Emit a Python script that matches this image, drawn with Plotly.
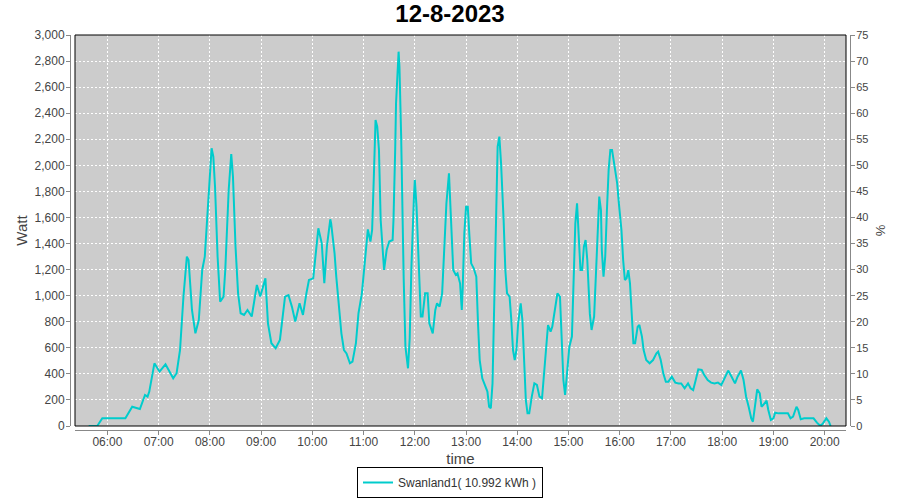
import plotly.graph_objects as go

day = "2023-08-12"
times = [
    "05:38", "05:48", "05:54", "06:00", "06:10", "06:21", "06:29", "06:35", "06:38", "06:44",
    "06:47", "06:49", "06:55", "07:01", "07:08", "07:17", "07:21", "07:25", "07:29", "07:33",
    "07:35", "07:39", "07:43", "07:47", "07:51", "07:54", "07:56", "07:58", "08:02", "08:04",
    "08:06", "08:09", "08:12", "08:16", "08:18", "08:22", "08:25", "08:27", "08:30", "08:33",
    "08:36", "08:40", "08:44", "08:49", "08:55", "08:59", "09:05", "09:08", "09:12", "09:17",
    "09:22", "09:28", "09:32", "09:36", "09:40", "09:45", "09:49", "09:53", "09:56", "10:01",
    "10:03", "10:07", "10:11", "10:14", "10:17", "10:21", "10:22", "10:24", "10:26", "10:28",
    "10:31", "10:34", "10:37", "10:40", "10:44", "10:47", "10:51", "10:54", "10:58", "11:01",
    "11:04", "11:05", "11:08", "11:10", "11:12", "11:14", "11:16", "11:18", "11:20", "11:23",
    "11:24", "11:27", "11:30", "11:34", "11:35", "11:37", "11:38", "11:41", "11:42", "11:44",
    "11:45", "11:47", "11:49", "11:52", "11:54", "11:56", "11:59", "12:00", "12:02", "12:05",
    "12:07", "12:09", "12:12", "12:15", "12:17", "12:21", "12:24", "12:26", "12:29", "12:32",
    "12:34", "12:37", "12:40", "12:42", "12:45", "12:48", "12:50", "12:53", "12:55", "12:56",
    "12:58", "13:00", "13:02", "13:04", "13:06", "13:09", "13:12", "13:14", "13:16", "13:19",
    "13:22", "13:25", "13:27", "13:29", "13:31", "13:33", "13:35", "13:37", "13:39", "13:41",
    "13:44", "13:46", "13:48", "13:51", "13:53", "13:55", "13:57", "13:59", "14:01", "14:04",
    "14:06", "14:08", "14:10", "14:12", "14:14", "14:17", "14:20", "14:23", "14:26", "14:29",
    "14:32", "14:34", "14:36", "14:39", "14:41", "14:44", "14:47", "14:50", "14:52", "14:54",
    "14:56", "14:59", "15:01", "15:04", "15:06", "15:08", "15:10", "15:12", "15:14", "15:16",
    "15:18", "15:20", "15:22", "15:25", "15:27", "15:30", "15:32", "15:34", "15:36", "15:38",
    "15:39", "15:41", "15:43", "15:45", "15:47", "15:49", "15:51", "15:54", "15:57", "15:59",
    "16:02", "16:04", "16:06", "16:08", "16:10", "16:12", "16:14", "16:16", "16:18", "16:21",
    "16:23", "16:26", "16:28", "16:31", "16:35", "16:39", "16:43", "16:45", "16:48", "16:51",
    "16:54", "16:57", "17:01", "17:05", "17:09", "17:12", "17:16", "17:20", "17:23", "17:26",
    "17:29", "17:32", "17:36", "17:39", "17:43", "17:47", "17:51", "17:55", "17:59", "18:03",
    "18:07", "18:11", "18:15", "18:18", "18:22", "18:25", "18:28", "18:31", "18:34", "18:36",
    "18:38", "18:41", "18:44", "18:46", "18:48", "18:52", "18:54", "18:57", "19:00", "19:02",
    "19:06", "19:12", "19:17", "19:20", "19:23", "19:27", "19:29", "19:32", "19:36", "19:41",
    "19:47", "19:51", "19:55", "19:58", "20:02", "20:05", "20:07",
]
watt = [
    0, 0, 59, 60, 60, 60, 148, 136, 130, 238,
    225, 264, 481, 417, 473, 366, 405, 583, 992, 1299,
    1274, 890, 711, 813, 1197, 1299, 1504, 1734, 2131, 2067,
    1836, 1299, 954, 993, 1197, 1811, 2087, 1913, 1376, 1018,
    865, 852, 890, 840, 1082, 993, 1133, 788, 635, 596,
    660, 993, 1005, 916, 801, 942, 852, 1018, 1120, 1133,
    1248, 1517, 1402, 1095, 1376, 1586, 1555, 1460, 1325, 1146,
    941, 711, 583, 557, 481, 494, 635, 865, 1018, 1248,
    1427, 1509, 1415, 1504, 1913, 2348, 2297, 2118, 1580, 1248,
    1197, 1350, 1415, 1427, 1580, 2118, 2476, 2872, 2757, 2220,
    1785, 1120, 609, 443, 673, 1222, 1760, 1888, 1683, 1171,
    840, 840, 1018, 1018, 788, 711, 890, 941, 916, 1018,
    1350, 1708, 1939, 1580, 1197, 1159, 1171, 1095, 890, 1044,
    1478, 1683, 1683, 1453, 1248, 1210, 1146, 788, 506, 366,
    315, 264, 148, 136, 327, 916, 1683, 2143, 2220, 2016,
    1580, 1197, 1018, 993, 813, 583, 506, 583, 788, 941,
    813, 430, 200, 97, 97, 225, 327, 315, 225, 213,
    430, 609, 775, 724, 762, 890, 1018, 993, 711, 353,
    238, 481, 609, 686, 1044, 1555, 1708, 1453, 1197, 1197,
    1376, 1427, 1274, 860, 737, 840, 1197, 1504, 1760, 1657,
    1350, 1146, 1299, 1657, 1964, 2118, 2118, 1990, 1862, 1708,
    1504, 1274, 1120, 1133, 1197, 1095, 840, 635, 635, 762,
    775, 686, 583, 506, 481, 506, 557, 570, 506, 404,
    340, 340, 378, 333, 327, 327, 289, 327, 289, 276,
    353, 435, 430, 391, 353, 333, 327, 333, 315, 366,
    425, 378, 327, 378, 425, 353, 225, 148, 59, 33,
    148, 281, 251, 148, 161, 194, 123, 46, 59, 102,
    97, 97, 97, 59, 72, 148, 123, 52, 59, 59,
    59, 26, 0, 20, 59, 33, 0,
]
series_name = "Swanland1( 10.992 kWh )"
chart_title = "12-8-2023"

x_vals = [f"{day} {t}" for t in times]

W, H = 900, 500
ml, mr, mt, mb = 70, 50, 35, 70
pw = W - ml - mr
ph = H - mt - mb

font_family = "Liberation Sans, Arial, sans-serif"
txt = "#444444"
axis_col = "#888888"

fig = go.Figure()
fig.add_trace(go.Scatter(
    x=x_vals, y=watt, mode="lines", name=series_name,
    line=dict(color="#00CCCC", width=2),
))
# invisible trace to enable the right axis
fig.add_trace(go.Scatter(
    x=[x_vals[0]], y=[0], yaxis="y2", mode="lines",
    line=dict(color="rgba(0,0,0,0)"), showlegend=False, hoverinfo="skip",
))

fig.update_layout(
    width=W, height=H,
    margin=dict(l=ml, r=mr, t=mt, b=mb, autoexpand=False),
    paper_bgcolor="white",
    plot_bgcolor="#CCCCCC",
    font=dict(family=font_family, size=12, color=txt),
    title=dict(text=f"<b>{chart_title}</b>", x=0.5, xref="container",
               y=1 - 14 / H, yref="container", yanchor="middle",
               font=dict(size=24, color="black", family=font_family)),
    xaxis=dict(
        type="date",
        domain=[5 / pw, 776 / pw],
        anchor="free", position=0,
        range=[f"{day} 05:22", f"{day} 20:25"],
        tick0=f"{day} 06:00", dtick=3600000, tickformat="%H:%M",
        showgrid=True, gridcolor="white", griddash="2px,2px", gridwidth=1,
        showline=True, linecolor=axis_col, linewidth=1,
        ticks="outside", ticklen=4, tickcolor=axis_col,
        ticklabelstandoff=-3,
        zeroline=False,
        title=dict(text="time", font=dict(size=15, color=txt), standoff=5),
    ),
    yaxis=dict(
        domain=[4 / ph, 1],
        anchor="free", position=0,
        range=[0, 3000], dtick=200, tickformat=",d",
        showgrid=True, gridcolor="white", griddash="2px,2px", gridwidth=1,
        showline=True, linecolor=axis_col, linewidth=1,
        ticks="outside", ticklen=4, tickcolor=axis_col,
        ticklabelstandoff=-1,
        zeroline=False,
        title=dict(text="Watt", font=dict(size=15, color=txt), standoff=2),
    ),
    yaxis2=dict(
        overlaying="y", side="right",
        anchor="free", position=1,
        range=[0, 75], dtick=5,
        showgrid=False, zeroline=False,
        showline=True, linecolor=axis_col, linewidth=1,
        ticks="outside", ticklen=4, tickcolor=axis_col,
        ticklabelstandoff=-1,
        tickfont=dict(size=11),
        title=dict(text="%", font=dict(size=13, color=txt), standoff=8),
    ),
    legend=dict(
        orientation="h", x=0.5, xanchor="center", xref="container",
        y=2 / H, yanchor="bottom", yref="container",
        bordercolor="black", borderwidth=1, bgcolor="white",
        font=dict(size=12, color="#333333"),
        itemwidth=30,
    ),
    shapes=[dict(type="rect", xref="x domain", yref="y domain",
                 x0=0, x1=1, y0=0, y1=1, line=dict(color="black", width=1),
                 layer="above")],
    showlegend=True,
)

fig.write_html("out.html", config={"displayModeBar": False},
               post_script="document.body.style.margin='0px';")
